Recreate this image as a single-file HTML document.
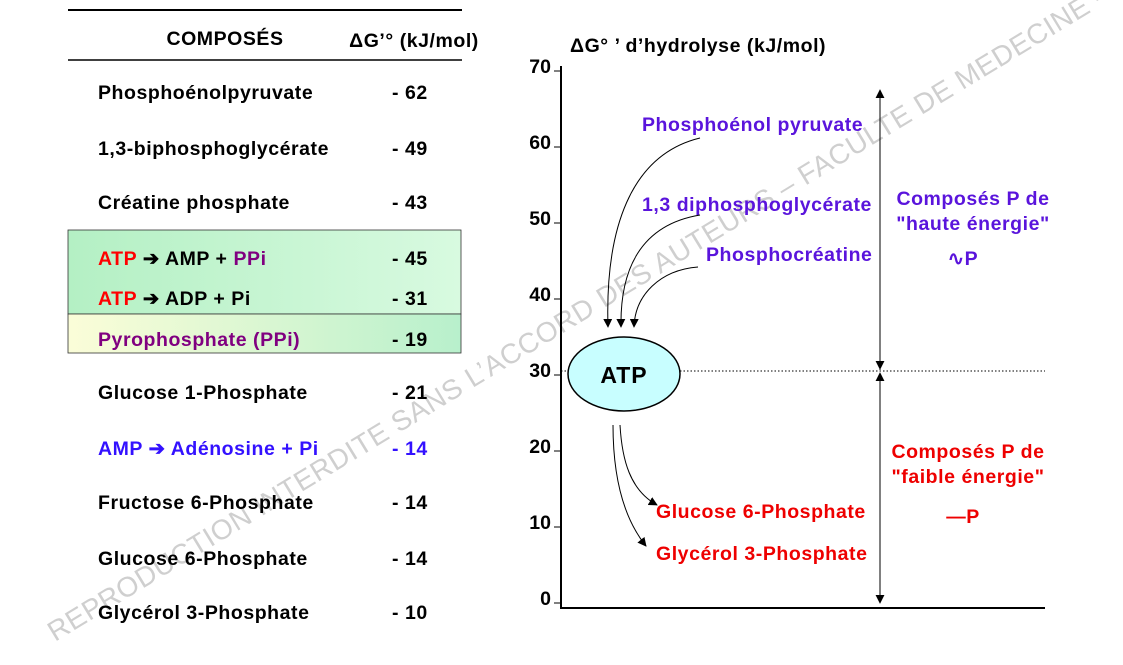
<!DOCTYPE html>
<html><head><meta charset="utf-8"><style>
body{margin:0;background:#fff}
svg{display:block;font-family:"Liberation Sans",Arial,sans-serif;font-weight:bold}
.t{font-size:19.5px;letter-spacing:0.55px}
</style></head><body>
<svg width="1123" height="665" viewBox="0 0 1123 665">
<defs>
<linearGradient id="g1" x1="0" x2="1"><stop offset="0" stop-color="#b4f0c4"/><stop offset="1" stop-color="#d8fae0"/></linearGradient>
<linearGradient id="g2" x1="0" x2="1"><stop offset="0" stop-color="#fbfdd8"/><stop offset="1" stop-color="#b8f0cc"/></linearGradient>
<marker id="ah" viewBox="0 0 10 10" refX="9" refY="5" markerWidth="9" markerHeight="9" orient="auto"><path d="M0,0L10,5L0,10z" fill="#000"/></marker>
</defs>
<text x="0" y="0" font-size="28" fill="#cfcfcf" font-weight="normal" letter-spacing="0.5" transform="translate(55,642) rotate(-31.3)">REPRODUCTION INTERDITE SANS L’ACCORD DES AUTEURS – FACULTE DE MEDECINE - </text>
<g>
<line x1="68" y1="10" x2="462" y2="10" stroke="#000" stroke-width="2"/>
<line x1="68" y1="60" x2="462" y2="60" stroke="#000" stroke-width="1.5"/>
<text class="t" x="225" y="45" text-anchor="middle">COMPOSÉS</text>
<text class="t" x="414" y="47" text-anchor="middle">ΔG’° (kJ/mol)</text>
<rect x="68" y="230" width="393" height="84" fill="url(#g1)" stroke="#333" stroke-width="0.8"/>
<rect x="68" y="314" width="393" height="39" fill="url(#g2)" stroke="#333" stroke-width="0.8"/>
<g class="t">
<text x="98" y="99">Phosphoénolpyruvate</text><text x="392" y="99">- 62</text>
<text x="98" y="155">1,3-biphosphoglycérate</text><text x="392" y="155">- 49</text>
<text x="98" y="209">Créatine phosphate</text><text x="392" y="209">- 43</text>
<text x="98" y="265"><tspan fill="#f00">ATP</tspan>  ➔ AMP + <tspan fill="#800080">PPi</tspan></text><text x="392" y="265">- 45</text>
<text x="98" y="305"><tspan fill="#f00">ATP</tspan>  ➔ ADP + Pi</text><text x="392" y="305">- 31</text>
<text x="98" y="346" fill="#800080">Pyrophosphate (PPi)</text><text x="392" y="346">- 19</text>
<text x="98" y="399">Glucose 1-Phosphate</text><text x="392" y="399">- 21</text>
<text x="98" y="455" fill="#3311ff">AMP ➔ Adénosine + Pi</text><text x="392" y="455" fill="#3311ff">- 14</text>
<text x="98" y="509">Fructose 6-Phosphate</text><text x="392" y="509">- 14</text>
<text x="98" y="565">Glucose 6-Phosphate</text><text x="392" y="565">- 14</text>
<text x="98" y="619">Glycérol 3-Phosphate</text><text x="392" y="619">- 10</text>
</g></g>
<g>
<text class="t" x="570" y="52">ΔG° ’ d’hydrolyse (kJ/mol)</text>
<line x1="561" y1="66" x2="561" y2="609" stroke="#000" stroke-width="2"/>
<line x1="561" y1="608" x2="1045" y2="608" stroke="#000" stroke-width="2"/>
<g id="ticks"></g>
<line x1="561" y1="371" x2="1045" y2="371" stroke="#000" stroke-width="1" stroke-dasharray="1.5,2"/>
<ellipse cx="624" cy="374" rx="56" ry="37" fill="#c8feff" stroke="#000" stroke-width="1.5"/>
<text x="624" y="383" font-size="23" letter-spacing="1" text-anchor="middle">ATP</text>
<g fill="#5a14dc" class="t">
<text x="642" y="131">Phosphoénol pyruvate</text>
<text x="642" y="211">1,3 diphosphoglycérate</text>
<text x="706" y="261">Phosphocréatine</text>
<text x="973" y="205" text-anchor="middle">Composés P de</text>
<text x="973" y="230" text-anchor="middle">"haute énergie"</text>
<text x="963" y="265" text-anchor="middle">∿P</text>
</g>
<g fill="#e00" class="t">
<text x="656" y="518">Glucose 6-Phosphate</text>
<text x="656" y="560">Glycérol 3-Phosphate</text>
<text x="968" y="458" text-anchor="middle">Composés P de</text>
<text x="968" y="483" text-anchor="middle">"faible énergie"</text>
<text x="963" y="523" text-anchor="middle">—P</text>
</g>
<g fill="none" stroke="#000" stroke-width="1" marker-end="url(#ah)">
<path d="M700,138 C630,155 605,230 608,327"/>
<path d="M700,215 C640,225 620,270 621,327"/>
<path d="M698,267 C660,270 635,295 634,327"/>
<path d="M620,425 C622,460 630,490 657,505"/>
<path d="M613,425 C613,480 625,520 646,546"/>
<path d="M880,370 L880,90"/>
<path d="M880,90 L880,369"/>
<path d="M880,375 L880,603"/>
<path d="M880,603 L880,373"/>
</g>
</g>
</svg>
<script>
const tickValues=[0,10,20,30,40,50,60,70];
const tickLabels=["0","10","20","30","40","50","60","70"];
function yScale(v){return 603-7.6*v;}
const g=document.getElementById('ticks');
const ns='http://www.w3.org/2000/svg';
tickValues.forEach((v,i)=>{
 const y=yScale(v);
 const l=document.createElementNS(ns,'line');
 l.setAttribute('x1',554);l.setAttribute('x2',561);l.setAttribute('y1',y);l.setAttribute('y2',y);
 l.setAttribute('stroke','#000');
 
 
 g.appendChild(l);
 const t=document.createElementNS(ns,'text');
 t.setAttribute('x',551);t.setAttribute('y',y+2);t.setAttribute('text-anchor','end');t.setAttribute('font-size','19.5');
 t.textContent=tickLabels[i];
 
 
 g.appendChild(t);
});
</script>
</body></html>
